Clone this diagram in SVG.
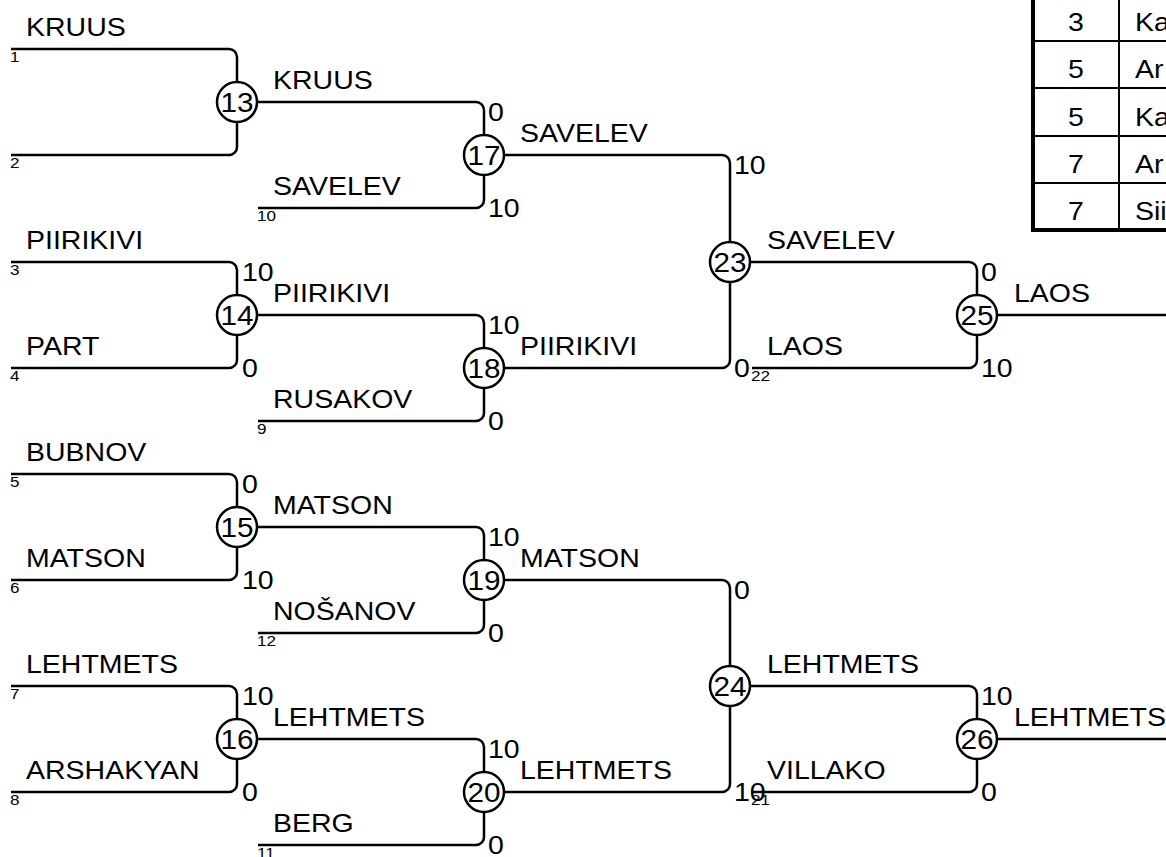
<svg xmlns="http://www.w3.org/2000/svg" width="1166" height="857" viewBox="0 0 1166 857">
<style>
.ln{fill:none;stroke:#000;stroke-width:2.5}
.nd circle{fill:#fff;stroke:#000;stroke-width:2.5}
text{font-family:"Liberation Sans",Arial,sans-serif;fill:#000}
.t{font-size:25px}
.s{font-size:15px}
.c{font-size:25px;text-anchor:middle}
.n{font-size:27px;text-anchor:middle}
.tb{stroke:#000;fill:none}
</style>
<rect width="1166" height="857" fill="#fff"/>
<g id="connectors" class="ln">
<path d="M11,49 H229 A8,8 0 0 1 237,57 V82"/>
<path d="M11,155 H229 A8,8 0 0 0 237,147 V122"/>
<path d="M11,262 H229 A8,8 0 0 1 237,270 V295"/>
<path d="M11,368 H229 A8,8 0 0 0 237,360 V335"/>
<path d="M11,474 H229 A8,8 0 0 1 237,482 V507"/>
<path d="M11,580 H229 A8,8 0 0 0 237,572 V547"/>
<path d="M11,686 H229 A8,8 0 0 1 237,694 V719"/>
<path d="M11,792 H229 A8,8 0 0 0 237,784 V759"/>
<path d="M257,102 H476 A8,8 0 0 1 484,110 V135"/>
<path d="M258,208 H476 A8,8 0 0 0 484,200 V175"/>
<path d="M257,315 H476 A8,8 0 0 1 484,323 V348"/>
<path d="M258,421 H476 A8,8 0 0 0 484,413 V388"/>
<path d="M257,527 H476 A8,8 0 0 1 484,535 V560"/>
<path d="M258,633 H476 A8,8 0 0 0 484,625 V600"/>
<path d="M257,739 H476 A8,8 0 0 1 484,747 V772"/>
<path d="M258,845 H476 A8,8 0 0 0 484,837 V812"/>
<path d="M504,155 H722 A8,8 0 0 1 730,163 V242"/>
<path d="M504,368 H722 A8,8 0 0 0 730,360 V282"/>
<path d="M504,580 H722 A8,8 0 0 1 730,588 V666"/>
<path d="M504,792 H722 A8,8 0 0 0 730,784 V706"/>
<path d="M750,262 H969 A8,8 0 0 1 977,270 V295"/>
<path d="M752,368 H969 A8,8 0 0 0 977,360 V335"/>
<path d="M750,686 H969 A8,8 0 0 1 977,694 V719"/>
<path d="M752,792 H969 A8,8 0 0 0 977,784 V759"/>
<path d="M997,315 H1170"/>
<path d="M997,739 H1170"/>
</g>
<g id="nodes">
<g id="m13" class="nd"><circle cx="237" cy="102" r="20"/><text class="n" transform="translate(237 112) scale(1.1 1)">13</text></g>
<g id="m14" class="nd"><circle cx="237" cy="315" r="20"/><text class="n" transform="translate(237 325) scale(1.1 1)">14</text></g>
<g id="m15" class="nd"><circle cx="237" cy="527" r="20"/><text class="n" transform="translate(237 537) scale(1.1 1)">15</text></g>
<g id="m16" class="nd"><circle cx="237" cy="739" r="20"/><text class="n" transform="translate(237 749) scale(1.1 1)">16</text></g>
<g id="m17" class="nd"><circle cx="484" cy="155" r="20"/><text class="n" transform="translate(484 165) scale(1.1 1)">17</text></g>
<g id="m18" class="nd"><circle cx="484" cy="368" r="20"/><text class="n" transform="translate(484 378) scale(1.1 1)">18</text></g>
<g id="m19" class="nd"><circle cx="484" cy="580" r="20"/><text class="n" transform="translate(484 590) scale(1.1 1)">19</text></g>
<g id="m20" class="nd"><circle cx="484" cy="792" r="20"/><text class="n" transform="translate(484 802) scale(1.1 1)">20</text></g>
<g id="m23" class="nd"><circle cx="730" cy="262" r="20"/><text class="n" transform="translate(730 272) scale(1.1 1)">23</text></g>
<g id="m24" class="nd"><circle cx="730" cy="686" r="20"/><text class="n" transform="translate(730 696) scale(1.1 1)">24</text></g>
<g id="m25" class="nd"><circle cx="977" cy="315" r="20"/><text class="n" transform="translate(977 325) scale(1.1 1)">25</text></g>
<g id="m26" class="nd"><circle cx="977" cy="739" r="20"/><text class="n" transform="translate(977 749) scale(1.1 1)">26</text></g>
</g>
<g id="names">
<text class="t" transform="translate(26 36) scale(1.14 1)">KRUUS</text>
<text class="t" transform="translate(26 249) scale(1.14 1)">PIIRIKIVI</text>
<text class="t" transform="translate(26 355) scale(1.14 1)">PART</text>
<text class="t" transform="translate(26 461) scale(1.14 1)">BUBNOV</text>
<text class="t" transform="translate(26 567) scale(1.14 1)">MATSON</text>
<text class="t" transform="translate(26 673) scale(1.14 1)">LEHTMETS</text>
<text class="t" transform="translate(26 779) scale(1.14 1)">ARSHAKYAN</text>
<text class="t" transform="translate(273 89) scale(1.14 1)">KRUUS</text>
<text class="t" transform="translate(273 195) scale(1.14 1)">SAVELEV</text>
<text class="t" transform="translate(273 302) scale(1.14 1)">PIIRIKIVI</text>
<text class="t" transform="translate(273 408) scale(1.14 1)">RUSAKOV</text>
<text class="t" transform="translate(273 514) scale(1.14 1)">MATSON</text>
<text class="t" transform="translate(273 620) scale(1.14 1)">NOŠANOV</text>
<text class="t" transform="translate(273 726) scale(1.14 1)">LEHTMETS</text>
<text class="t" transform="translate(273 832) scale(1.14 1)">BERG</text>
<text class="t" transform="translate(520 142) scale(1.14 1)">SAVELEV</text>
<text class="t" transform="translate(520 355) scale(1.14 1)">PIIRIKIVI</text>
<text class="t" transform="translate(520 567) scale(1.14 1)">MATSON</text>
<text class="t" transform="translate(520 779) scale(1.14 1)">LEHTMETS</text>
<text class="t" transform="translate(767 249) scale(1.14 1)">SAVELEV</text>
<text class="t" transform="translate(767 355) scale(1.14 1)">LAOS</text>
<text class="t" transform="translate(767 673) scale(1.14 1)">LEHTMETS</text>
<text class="t" transform="translate(767 779) scale(1.14 1)">VILLAKO</text>
<text class="t" transform="translate(1014 302) scale(1.14 1)">LAOS</text>
<text class="t" transform="translate(1014 726) scale(1.14 1)">LEHTMETS</text>
</g>
<g id="seeds">
<text class="s" transform="translate(10 62) scale(1.14 1)">1</text>
<text class="s" transform="translate(10 168) scale(1.14 1)">2</text>
<text class="s" transform="translate(10 275) scale(1.14 1)">3</text>
<text class="s" transform="translate(10 381) scale(1.14 1)">4</text>
<text class="s" transform="translate(10 487) scale(1.14 1)">5</text>
<text class="s" transform="translate(10 593) scale(1.14 1)">6</text>
<text class="s" transform="translate(10 699) scale(1.14 1)">7</text>
<text class="s" transform="translate(10 805) scale(1.14 1)">8</text>
<text class="s" transform="translate(257 221) scale(1.14 1)">10</text>
<text class="s" transform="translate(257 434) scale(1.14 1)">9</text>
<text class="s" transform="translate(257 646) scale(1.14 1)">12</text>
<text class="s" transform="translate(257 858) scale(1.14 1)">11</text>
<text class="s" transform="translate(751 381) scale(1.14 1)">22</text>
<text class="s" transform="translate(751 805) scale(1.14 1)">21</text>
</g>
<g id="scores">
<text class="t" transform="translate(242 281) scale(1.14 1)">10</text>
<text class="t" transform="translate(242 377) scale(1.14 1)">0</text>
<text class="t" transform="translate(242 493) scale(1.14 1)">0</text>
<text class="t" transform="translate(242 589) scale(1.14 1)">10</text>
<text class="t" transform="translate(242 705) scale(1.14 1)">10</text>
<text class="t" transform="translate(242 801) scale(1.14 1)">0</text>
<text class="t" transform="translate(488 121) scale(1.14 1)">0</text>
<text class="t" transform="translate(488 217) scale(1.14 1)">10</text>
<text class="t" transform="translate(488 334) scale(1.14 1)">10</text>
<text class="t" transform="translate(488 430) scale(1.14 1)">0</text>
<text class="t" transform="translate(488 546) scale(1.14 1)">10</text>
<text class="t" transform="translate(488 642) scale(1.14 1)">0</text>
<text class="t" transform="translate(488 758) scale(1.14 1)">10</text>
<text class="t" transform="translate(488 854) scale(1.14 1)">0</text>
<text class="t" transform="translate(734 174) scale(1.14 1)">10</text>
<text class="t" transform="translate(734 377) scale(1.14 1)">0</text>
<text class="t" transform="translate(734 599) scale(1.14 1)">0</text>
<text class="t" transform="translate(734 801) scale(1.14 1)">10</text>
<text class="t" transform="translate(981 281) scale(1.14 1)">0</text>
<text class="t" transform="translate(981 377) scale(1.14 1)">10</text>
<text class="t" transform="translate(981 705) scale(1.14 1)">10</text>
<text class="t" transform="translate(981 801) scale(1.14 1)">0</text>
</g>
<g id="table">
<path class="tb" stroke-width="2" d="M1119,-5 V230 M1033,41 H1170 M1033,88 H1170 M1033,136 H1170 M1033,183 H1170"/>
<path class="tb" stroke-width="4" d="M1033,-5 V232 M1031,230 H1170"/>
<text class="c" transform="translate(1076 31) scale(1.14 1)">3</text>
<text class="c" transform="translate(1076 78) scale(1.14 1)">5</text>
<text class="c" transform="translate(1076 126) scale(1.14 1)">5</text>
<text class="c" transform="translate(1076 173) scale(1.14 1)">7</text>
<text class="c" transform="translate(1076 220) scale(1.14 1)">7</text>
<text class="t" transform="translate(1135 31) scale(1.14 1)">Ka</text>
<text class="t" transform="translate(1135 78) scale(1.14 1)">Ar</text>
<text class="t" transform="translate(1135 126) scale(1.14 1)">Ka</text>
<text class="t" transform="translate(1135 173) scale(1.14 1)">Ar</text>
<text class="t" transform="translate(1135 220) scale(1.14 1)">Sii</text>
</g>
</svg>
